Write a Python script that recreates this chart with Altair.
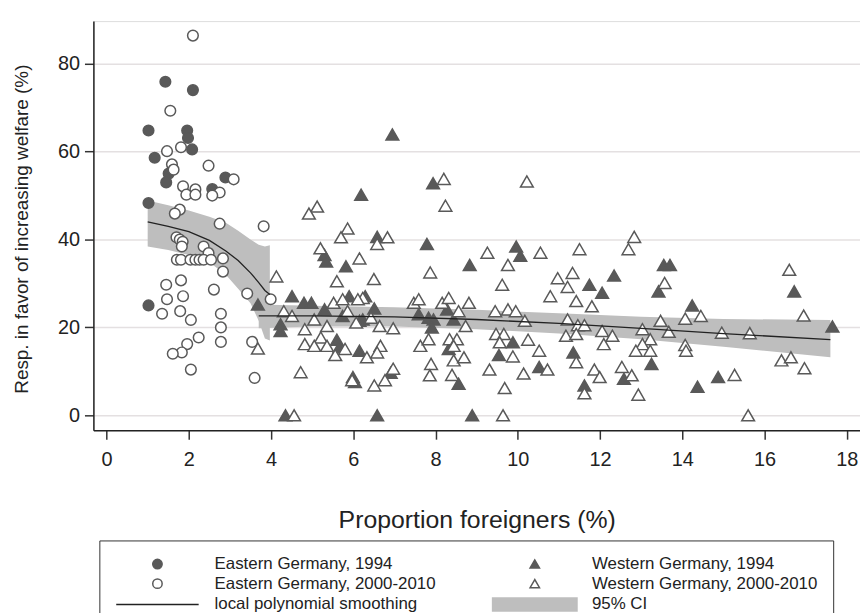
import altair as alt
import pandas as pd

FONT = "Liberation Sans"
G_E94 = "Eastern Germany, 1994"
G_W94 = "Western Germany, 1994"
G_E00 = "Eastern Germany, 2000-2010"
G_W00 = "Western Germany, 2000-2010"
G_LINE = "local polynomial smoothing"
G_CI = "95% CI"

# Eastern Germany 1994 (filled circles)
e94_x = [1.43, 2.10, 1.02, 1.96, 1.98, 2.08, 1.17, 1.51, 1.45, 2.89, 2.57, 1.02, 1.02]
e94_y = [75.9, 74.0, 64.8, 64.8, 63.1, 60.5, 58.6, 55.0, 53.0, 54.1, 51.5, 48.3, 25.0]

# Eastern Germany 2000-2010 (open circles)
e00_x = [2.10, 1.55, 1.81, 1.47, 1.59, 1.63, 2.48, 3.09, 1.86, 2.16, 1.94, 2.16, 2.75, 2.57,
         1.78, 1.66, 2.75, 3.82, 1.70, 1.78, 1.85, 1.83, 2.36, 2.48, 1.71, 1.81, 2.04, 2.16,
         2.26, 2.36, 2.54, 2.83, 2.83, 1.45, 1.81, 2.61, 1.47, 1.86, 1.35, 1.79, 2.05, 2.78,
         2.78, 2.78, 2.24, 1.96, 1.83, 1.61, 2.05, 3.42, 3.99, 3.54, 3.60]
e00_y = [86.4, 69.3, 61.0, 60.1, 57.1, 55.9, 56.8, 53.7, 52.1, 51.4, 50.2, 50.2, 50.7, 50.0,
         46.8, 45.9, 43.6, 43.0, 40.5, 40.0, 39.5, 38.4, 38.4, 36.9, 35.4, 35.4, 35.4, 35.4,
         35.4, 35.4, 35.4, 35.7, 32.7, 29.7, 30.7, 28.6, 26.4, 27.1, 23.1, 23.7, 21.7, 23.1,
         20.0, 16.7, 17.7, 16.2, 14.3, 14.0, 10.4, 27.7, 26.4, 16.7, 8.5]

# Western Germany 1994 (filled triangles)
w94_x = [6.95, 7.94, 6.19, 6.58, 7.79, 5.30, 5.34, 5.82, 8.83, 4.51, 4.80, 4.98, 5.30, 5.90,
         6.29, 5.74, 6.51, 6.15, 6.23, 4.23, 4.23, 5.60, 5.66, 6.15, 5.99, 6.04, 6.91, 4.35,
         6.58, 8.89, 7.59, 7.83, 7.95, 8.28, 8.44, 7.91, 8.32, 8.56, 9.96, 10.06, 13.55, 13.70,
         11.74, 12.34, 12.05, 13.42, 9.88, 9.54, 11.35, 10.52, 12.58, 11.62, 13.25, 16.72,
         14.24, 17.65, 14.87, 14.37, 3.68]
w94_y = [63.9, 52.8, 50.2, 40.6, 39.0, 36.5, 35.0, 33.9, 34.2, 27.1, 25.6, 25.6, 24.1, 27.1,
         27.1, 22.6, 24.3, 21.5, 21.8, 20.7, 19.2, 17.2, 15.5, 14.7, 8.7, 7.6, 9.7, 0.0,
         0.0, 0.0, 23.0, 22.2, 21.8, 24.1, 21.8, 20.0, 15.1, 7.2, 38.4, 36.3, 34.2, 34.2,
         29.7, 31.8, 27.9, 28.2, 16.6, 13.7, 14.3, 11.0, 8.3, 6.8, 11.7, 28.2,
         25.0, 20.2, 8.7, 6.5, 25.2]

# Western Germany 2000-2010 (open triangles)
w00_x = [8.20, 8.24, 5.12, 4.92, 5.86, 5.70, 6.83, 6.58, 5.20, 6.15, 7.87, 5.60, 6.50, 4.13,
         4.31, 4.51, 5.52, 5.74, 6.23, 6.11, 5.86, 6.43, 6.07, 5.05, 5.36, 4.82, 6.64, 6.97,
         5.21, 4.82, 5.05, 5.36, 5.80, 5.56, 6.33, 6.66, 6.58, 4.72, 5.97, 6.51, 6.77, 6.97,
         4.56, 7.47, 7.59, 8.16, 8.32, 8.81, 8.56, 8.73, 7.63, 7.83, 8.34, 8.52, 8.44, 8.44,
         8.69, 7.89, 7.86, 8.40, 3.68,
         10.22, 12.83, 12.69, 9.26, 10.55, 11.50, 9.76, 9.62, 10.97, 11.33, 11.21, 10.79,
         11.42, 11.80, 9.45, 9.76, 9.95, 10.17, 11.21, 11.46, 11.62, 11.17, 11.42, 12.05,
         12.30, 12.09, 13.47, 13.03, 13.22, 13.03, 12.87, 13.22, 9.47, 9.66, 9.56, 10.25,
         9.88, 10.52, 11.42, 9.31, 10.14, 10.72, 11.86, 11.99, 12.53, 12.77, 9.68, 11.62,
         12.93, 9.64, 16.60, 13.57, 14.07, 14.45, 16.95, 13.67, 14.96, 15.64, 14.07, 14.09,
         16.41, 16.64, 16.97, 15.27, 15.60]
w00_y = [53.8, 47.7, 47.5, 45.9, 42.5, 40.5, 40.5, 39.0, 38.0, 35.7, 32.5, 30.5, 31.0, 31.6,
         23.7, 22.6, 25.6, 26.4, 26.7, 26.4, 23.7, 22.2, 21.1, 21.8, 20.3, 19.6, 20.3, 19.8,
         17.7, 16.2, 15.8, 15.8, 15.1, 13.7, 13.2, 15.8, 14.3, 9.8, 8.0, 6.8, 8.0, 10.6,
         0.0, 25.6, 26.4, 25.6, 26.7, 25.6, 23.7, 20.3, 15.8, 17.3, 17.3, 17.3, 15.8, 12.5,
         13.2, 11.7, 9.1, 9.2, 15.2,
         53.2, 40.6, 37.8, 37.0, 37.0, 37.8, 34.2, 29.7, 31.2, 32.4, 29.2, 27.1,
         26.0, 24.8, 23.7, 24.1, 23.7, 21.5, 21.8, 20.5, 20.5, 18.1, 18.5, 19.2,
         18.1, 16.2, 21.5, 19.6, 17.3, 16.2, 14.7, 14.7, 18.5, 18.5, 16.6, 17.2,
         13.4, 14.7, 12.1, 10.4, 9.5, 10.4, 10.4, 8.7, 11.0, 9.1, 6.2, 5.0,
         4.7, 0.0, 33.1, 30.1, 22.0, 22.6, 22.7, 19.0, 18.8, 18.7, 16.0, 14.7,
         12.5, 13.2, 10.7, 9.2, 0.0]

# Local polynomial smoothing and 95% CI
east_sx = [1.0, 1.5, 2.0, 2.5, 2.9, 3.2, 3.5, 3.7, 3.85, 3.97]
east_fit = [44.0, 43.0, 41.8, 39.8, 37.4, 35.2, 32.4, 30.2, 28.4, 27.5]
east_lo = [38.4, 37.6, 36.5, 34.8, 32.0, 28.8, 25.5, 21.5, 17.5, 17.0]
east_hi = [48.9, 47.8, 46.6, 45.2, 43.8, 42.0, 40.0, 38.8, 38.4, 38.7]

west_sx = [3.7, 5.0, 7.0, 9.0, 11.0, 13.0, 15.0, 17.6]
west_fit = [22.6, 22.6, 22.4, 21.8, 20.9, 19.8, 18.6, 17.2]
west_lo = [19.8, 20.2, 20.2, 19.6, 18.6, 17.3, 15.6, 13.2]
west_hi = [25.2, 24.9, 24.6, 24.0, 23.2, 22.4, 21.9, 21.7]

circ = pd.concat([
    pd.DataFrame({"x": e94_x, "y": e94_y, "grp": G_E94}),
    pd.DataFrame({"x": e00_x, "y": e00_y, "grp": G_E00}),
])
tri = pd.concat([
    pd.DataFrame({"x": w94_x, "y": w94_y, "grp": G_W94}),
    pd.DataFrame({"x": w00_x, "y": w00_y, "grp": G_W00}),
])
smooth = pd.concat([
    pd.DataFrame({"x": east_sx, "fit": east_fit, "lo": east_lo, "hi": east_hi, "part": "east"}),
    pd.DataFrame({"x": west_sx, "fit": west_fit, "lo": west_lo, "hi": west_hi, "part": "west"}),
])

DARK = "#595959"
# legend is filled column by column: first column, then second column
domain = [G_E94, G_E00, G_LINE, G_W94, G_W00, G_CI]
shape_range = ["circle", "circle", "M-8.75,0H8.75",
               "triangle-up", "triangle-up", "M-8.96,-1.4H8.96V1.4H-8.96Z"]
fill_range = [DARK, "white", "transparent", DARK, "white", "#bebebe"]
stroke_range = [DARK, DARK, "#222222", DARK, DARK, "#bebebe"]

leg = alt.Legend(title=None, orient="none", legendX=6, legendY=523, columns=2,
                 columnPadding=53, rowPadding=2, symbolSize=90, symbolStrokeWidth=1.5,
                 symbolOffset=35,
                 labelFont=FONT, labelFontSize=17, labelColor="#222222", labelOffset=49,
                 labelLimit=500, strokeColor="#333333", fillColor="white", padding=15)

xs = alt.Scale(domain=[-0.32, 18.32], nice=False, zero=False)
ys = alt.Scale(domain=[-3.4, 89.7], nice=False, zero=False)

xax = alt.Axis(values=list(range(0, 19, 2)), title="Proportion foreigners (%)", grid=False,
               tickSize=9, tickWidth=1.5, tickColor="#333333", labelPadding=11,
               labelFontSize=20, labelFont=FONT, labelColor="#222222",
               titleFont=FONT, titleFontSize=25, titleFontWeight="normal", titleColor="#222222",
               titleY=90, titleBaseline="middle",
               domainColor="#222222", domainWidth=1.5)
yax = alt.Axis(values=[0, 20, 40, 60, 80], title="Resp. in favor of increasing welfare (%)",
               grid=True, gridColor="#e4e0e1", gridWidth=1.5,
               tickSize=9, tickWidth=1.5, tickColor="#333333", labelPadding=5,
               labelFontSize=20, labelFont=FONT, labelColor="#222222",
               titleFont=FONT, titleFontSize=19, titleFontWeight="normal", titleColor="#222222",
               titleX=-72, titleY=209, titleBaseline="middle", titleAlign="center", titleAngle=270,
               domainColor="#222222", domainWidth=1.5)

def grp_enc():
    return dict(
        shape=alt.Shape("grp:N", scale=alt.Scale(domain=domain, range=shape_range), legend=leg),
        fill=alt.Fill("grp:N", scale=alt.Scale(domain=domain, range=fill_range), legend=leg),
        stroke=alt.Stroke("grp:N", scale=alt.Scale(domain=domain, range=stroke_range), legend=leg),
    )

band = alt.Chart(smooth).mark_area(color="#bebebe", opacity=1).encode(
    x=alt.X("x:Q", scale=xs, axis=xax),
    y=alt.Y("lo:Q", scale=ys, axis=yax),
    y2="hi:Q",
    detail="part:N",
)
pts_c = alt.Chart(circ).mark_point(filled=True, opacity=1, strokeWidth=1.5, size=115).encode(
    x=alt.X("x:Q", scale=xs), y=alt.Y("y:Q", scale=ys), **grp_enc())
pts_t = alt.Chart(tri).mark_point(filled=True, opacity=1, strokeWidth=1.5, size=165).encode(
    x=alt.X("x:Q", scale=xs), y=alt.Y("y:Q", scale=ys), **grp_enc())
line = alt.Chart(smooth).mark_line(color="#222222", strokeWidth=1.3).encode(
    x=alt.X("x:Q", scale=xs), y=alt.Y("fit:Q", scale=ys), detail="part:N")

chart = alt.layer(band, pts_c, pts_t, line).properties(
    width=772, height=412,
    padding={"left": 4, "top": 11, "right": 0, "bottom": 0},
).configure_view(stroke="#3a3a3a", strokeWidth=1.5).configure(background="white")

chart.save("out.html", embed_options={"renderer": "svg", "actions": False})
